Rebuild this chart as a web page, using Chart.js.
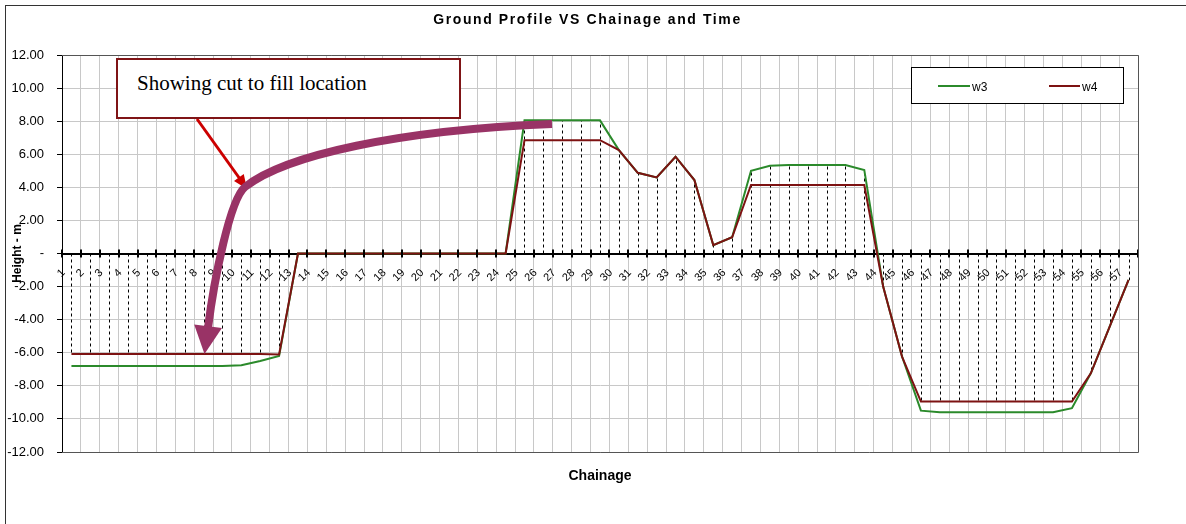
<!DOCTYPE html>
<html>
<head>
<meta charset="utf-8">
<script src="https://cdn.jsdelivr.net/npm/chart.js@4.4.0/dist/chart.umd.min.js"></script>
<style>
html,body{margin:0;padding:0;background:#fff;}
#wrap{position:relative;width:1186px;height:524px;overflow:hidden;background:#fff;}
#c{position:absolute;left:0;top:0;}
#frame{position:absolute;left:5px;top:5px;width:1300px;height:600px;border-top:1px solid #333;border-left:1px solid #333;pointer-events:none;}
#note{position:absolute;left:116px;top:58px;width:345px;height:61px;box-sizing:border-box;border:2px solid #7f1416;background:#fff;
  font-family:'Liberation Serif','Times New Roman',serif;font-size:21px;line-height:24px;padding:11px 0 0 19px;color:#000;white-space:nowrap;}
#legend{position:absolute;left:911px;top:67px;width:213px;height:37px;box-sizing:border-box;border:1px solid #000;background:#fff;
  font-family:'Liberation Sans',Arial,sans-serif;font-size:12px;line-height:14px;color:#000;}
#legend .ln{position:absolute;height:2px;top:17px;}
#legend .tx{position:absolute;top:12px;}
</style>
</head>
<body>
<div id="wrap">
  <canvas id="c" width="1186" height="524"></canvas>
  <div id="frame"></div>
  <div id="note">Showing cut to fill location</div>
  <div id="legend"></div>
</div>
<script>
// ---- data ----
const chainage = ['1','2','3','4','5','6','7','8','9','10','11','12','13','14','15','16','17','18','19','20',
  '21','22','23','24','25','26','27','28','29','30','31','32','33','34','35','36','37','38','39','40',
  '41','42','43','44','45','46','47','48','49','50','51','52','53','54','55','56','57'];
const w3 = [-6.8,-6.8,-6.8,-6.8,-6.8,-6.8,-6.8,-6.8,-6.8,-6.75,-6.5,-6.2,0,
  0,0,0,0,0,0,0,0,0,0,0,
  8.05,8.05,8.05,8.05,8.05,
  6.25,4.88,4.6,5.85,4.44,0.51,0.98,
  5.0,5.3,5.35,5.35,5.35,5.35,5.05,
  -2.0,-6.23,-9.5,-9.6,-9.6,-9.6,-9.6,-9.6,-9.6,-9.6,-9.35,-7.24,-4.42,-1.6];
const w4 = [-6.08,-6.08,-6.08,-6.08,-6.08,-6.08,-6.08,-6.08,-6.08,-6.08,-6.08,-6.1,0,
  0,0,0,0,0,0,0,0,0,0,0,
  6.85,6.85,6.85,6.85,6.85,
  6.25,4.88,4.6,5.85,4.44,0.51,0.98,
  4.14,4.14,4.14,4.14,4.14,4.14,4.14,
  -2.0,-6.23,-8.95,-8.95,-8.95,-8.95,-8.95,-8.95,-8.95,-8.95,-8.95,-7.24,-4.42,-1.6];
const yTicks = {min:-12, max:12, step:2};
const seriesNames = ['w3','w4'];
const seriesColors = ['#2b8a2b','#7d1212'];

Chart.defaults.font.family = "'Liberation Sans', Arial, sans-serif";
Chart.defaults.color = '#000';

// drop lines from the highest series value to the category axis
const dropLines = {
  id:'dropLines',
  beforeDatasetsDraw(chart){
    const {ctx, scales:{x,y}} = chart;
    const y0 = y.getPixelForValue(0);
    ctx.save();
    ctx.strokeStyle='#000'; ctx.lineWidth=1; ctx.setLineDash([3,3]);
    for (let i=0;i<chainage.length;i++){
      const v = Math.max(w3[i], w4[i]);
      if (v === 0) continue;
      const px = Math.round(x.getPixelForValue(i)) + 0.5;
      ctx.beginPath(); ctx.moveTo(px, y0); ctx.lineTo(px, y.getPixelForValue(v)); ctx.stroke();
    }
    ctx.restore();
  }
};

// rotated category labels next to the axis that crosses at 0
const catLabels = {
  id:'catLabels',
  beforeDatasetsDraw(chart){
    const {ctx, scales:{x,y}} = chart;
    const y0 = y.getPixelForValue(0);
    ctx.save();
    ctx.font = "11px 'Liberation Sans', Arial, sans-serif";
    ctx.fillStyle = '#000'; ctx.textAlign = 'right'; ctx.textBaseline = 'middle';
    chainage.forEach((lab, i) => {
      const px = x.getPixelForValue(i);
      ctx.save();
      ctx.translate(px - 8, y0 + 17.5);
      ctx.rotate(-Math.PI/4);
      ctx.fillText(lab, 0, 0);
      ctx.restore();
    });
    ctx.restore();
  }
};

// crossing tick marks on the category axis + plot-area frame
const axisDecor = {
  id:'axisDecor',
  afterDatasetsDraw(chart){
    const {ctx, chartArea:a, scales:{x,y}} = chart;
    const y0 = y.getPixelForValue(0);
    ctx.save();
    ctx.strokeStyle='#000'; ctx.lineWidth=2;
    ctx.beginPath();
    for (let i=0;i<=chainage.length;i++){
      const px = Math.round(x.getPixelForValue(i-0.5));
      ctx.moveTo(px, y0-4); ctx.lineTo(px, y0+4);
    }
    ctx.stroke();
    ctx.strokeStyle='#555'; ctx.lineWidth=1;
    ctx.beginPath();
    ctx.moveTo(a.left, a.top+0.5); ctx.lineTo(a.right+0.5, a.top+0.5);
    ctx.lineTo(a.right+0.5, a.bottom+0.5); ctx.lineTo(a.left, a.bottom+0.5);
    ctx.stroke();
    ctx.restore();
  }
};

// wider letter spacing for the chart title (Excel-like rendering)
const titleSpacing = {
  id:'titleSpacing',
  beforeDraw(chart){
    const tb = chart.titleBlock;
    if (tb && !tb._spaced){
      const orig = tb.draw.bind(tb);
      tb.draw = function(area){
        const c = this.ctx; const prev = c.letterSpacing;
        c.letterSpacing = '1.6px'; orig(area); c.letterSpacing = prev || '0px';
      };
      tb._spaced = true;
    }
  }
};

function arrowHead(ctx, fx, fy, tx, ty, len, wid, color){
  const dx = tx-fx, dy = ty-fy, d = Math.hypot(dx,dy), ux = dx/d, uy = dy/d;
  const bx = tx-ux*len, by = ty-uy*len;
  ctx.fillStyle = color;
  ctx.beginPath();
  ctx.moveTo(tx,ty);
  ctx.lineTo(bx - uy*wid/2, by + ux*wid/2);
  ctx.lineTo(bx + uy*wid/2, by - ux*wid/2);
  ctx.closePath(); ctx.fill();
}

// callout arrows
const callouts = {
  id:'callouts',
  afterDraw(chart){
    const ctx = chart.ctx;
    ctx.save();
    ctx.strokeStyle='#cc0000'; ctx.lineWidth=3; ctx.lineCap='butt';
    ctx.beginPath(); ctx.moveTo(197,119); ctx.lineTo(240,179); ctx.stroke();
    arrowHead(ctx,197,119,247,189,14,12,'#cc0000');
    const pc = '#993366';
    ctx.strokeStyle=pc; ctx.lineWidth=8;
    ctx.beginPath();
    ctx.moveTo(552,124);
    ctx.bezierCurveTo(400,130,285,155,245,187);
    ctx.bezierCurveTo(230,199,214,280,208,328);
    ctx.stroke();
    arrowHead(ctx,214,280,204.5,354,28,28,pc);
    ctx.restore();
  }
};

const chart = new Chart(document.getElementById('c').getContext('2d'), {
  type:'line',
  data:{
    labels: chainage,
    datasets:[
      {label:seriesNames[0], data:w3, borderColor:seriesColors[0], backgroundColor:seriesColors[0], borderWidth:2, pointRadius:0, tension:0, fill:false, order:2},
      {label:seriesNames[1], data:w4, borderColor:seriesColors[1], backgroundColor:seriesColors[1], borderWidth:2, pointRadius:0, tension:0, fill:false, order:1}
    ]
  },
  options:{
    responsive:false, animation:false, devicePixelRatio:1,
    layout:{padding:{left:0, top:0, right:11, bottom:35.6}},
    plugins:{
      legend:{display:false},
      tooltip:{enabled:false},
      title:{display:true, text:'Ground Profile VS Chainage and Time', color:'#000',
        font:{size:14, weight:'bold'}, padding:{top:12, bottom:26.2}}
    },
    scales:{
      x:{type:'category', position:{y:0}, offset:true,
        grid:{offset:true, color:'#c8c8c8', lineWidth:1, drawTicks:false},
        border:{color:'#000', width:2},
        ticks:{display:false, autoSkip:false},
        afterFit(s){ s.height = 0; }
      },
      x2:{type:'linear', axis:'x', position:'bottom', display:true,
        grid:{display:false, drawTicks:false}, border:{display:false}, ticks:{display:false},
        title:{display:true, text:'Chainage', color:'#000', font:{size:14, weight:'bold'}, padding:{top:15.6, bottom:4}}
      },
      y:{min:yTicks.min, max:yTicks.max,
        ticks:{stepSize:yTicks.step, font:{size:13}, color:'#000', padding:13,
          callback:v => v === 0 ? '-' : Number(v).toFixed(2)},
        grid:{color:'#c8c8c8', lineWidth:1, tickLength:5, tickColor:'#000'},
        border:{color:'#000', width:1},
        title:{display:true, text:'Height - m', color:'#000', font:{size:12, weight:'bold'}, padding:{top:10.8, bottom:0}},
        afterFit(s){ s.width = 62; }
      },
      yR:{type:'linear', axis:'y', position:'right', display:true,
        grid:{display:false, drawTicks:false}, border:{display:false}, ticks:{display:false},
        afterFit(s){ s.width = 37; }
      }
    }
  },
  plugins:[titleSpacing, dropLines, catLabels, axisDecor, callouts]
});

// legend built from the series names/colours
const lg = document.getElementById('legend');
const lnX = [26, 137], txX = [60, 170], lnW = [32, 31];
seriesNames.forEach((n,i)=>{
  const l = document.createElement('div'); l.className='ln';
  l.style.left = lnX[i]+'px'; l.style.width = lnW[i]+'px'; l.style.background = seriesColors[i];
  const t = document.createElement('div'); t.className='tx'; t.style.left = txX[i]+'px'; t.textContent = n;
  lg.appendChild(l); lg.appendChild(t);
});
</script>
</body>
</html>
